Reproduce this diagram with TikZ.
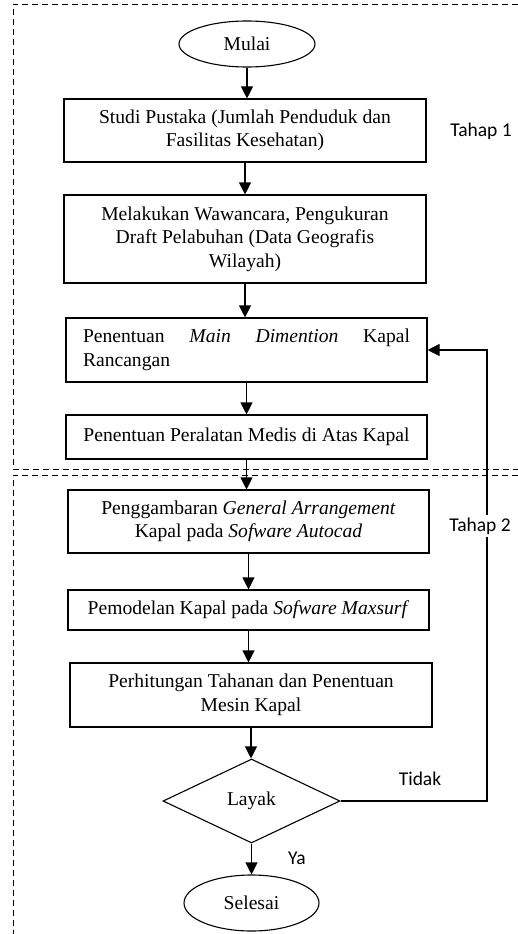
\documentclass[tikz,border=0pt]{standalone}
\usepackage{fontspec}
\setmainfont{Liberation Serif}
\newfontfamily\calfont{Carlito}
\usetikzlibrary{shapes.geometric,arrows.meta}
\newcommand{\boxfont}{\fontsize{19.6}{23.5}\selectfont}
\newcommand{\labfont}{\calfont\fontsize{19.5}{23}\selectfont}
\tikzset{
  proc/.style={draw, line width=1.1pt, align=center, inner sep=0pt, font=\boxfont},
  term/.style={draw, ellipse, line width=1.1pt, inner sep=0pt, font=\boxfont},
  decis/.style={draw, diamond, line width=1.1pt, inner sep=0pt, font=\boxfont},
  arr/.style={line width=1.1pt, -{Triangle[width=12pt,length=12pt]}},
  ln/.style={line width=1.1pt},
  dsh/.style={line width=0.9pt, dash pattern=on 6pt off 4pt},
  lab/.style={font=\labfont, inner sep=1pt}
}
\begin{document}
\begin{tikzpicture}[x=1pt,y=-1pt]
\useasboundingbox (0,0) rectangle (518,934);
% dashed stage frames
\draw[dsh] (518,4) -- (13,4) -- (13,469) -- (518,469);
\draw[dsh] (518,475) -- (13,475) -- (13,934);
% nodes
\node[term, minimum width=136pt, minimum height=46pt] (start) at (247,44) {Mulai};
\node[proc, minimum width=362pt, minimum height=63pt] (b1) at (245,130.5)
  {Studi Pustaka (Jumlah Penduduk dan\\Fasilitas Kesehatan)};
\node[proc, minimum width=362pt, minimum height=88pt] (b2) at (245,239)
  {Melakukan Wawancara, Pengukuran\\Draft Pelabuhan (Data Geografis\\Wilayah)};
\node[proc, minimum width=361pt, minimum height=64pt, text width=327pt, align=left] (b3) at (246.5,350)
  {Penentuan\hfill\textit{Main}\hfill\textit{Dimention}\hfill Kapal\\Rancangan};
\node[proc, minimum width=361pt, minimum height=44pt] (b4) at (246.5,437)
  {Penentuan Peralatan Medis di Atas Kapal};
\node[proc, minimum width=361pt, minimum height=63pt] (b5) at (248.5,521.5)
  {Penggambaran \textit{General Arrangement}\\Kapal pada \textit{Sofware Autocad}};
\node[proc, minimum width=361pt, minimum height=40pt] (b6) at (248.5,610)
  {Pemodelan Kapal pada \textit{Sofware Maxsurf}};
\node[proc, minimum width=362pt, minimum height=64pt] (b7) at (251,695)
  {Perhitungan Tahanan dan Penentuan\\Mesin Kapal};
\node[decis, minimum width=177pt, minimum height=84pt] (dec) at (251.5,801) {Layak};
\node[term, minimum width=135pt, minimum height=56pt] (stop) at (251.5,903) {Selesai};
% labels
\node[lab] (t1) at (481,131) {Tahap 1};
\node[lab] (ti) at (420,779) {Tidak};
\node[lab] (ya) at (297,858) {Ya};
% connectors
\draw[arr] (start.south) -- (start.south |- b1.north);
\draw[arr] (b1.south) -- (b1.south |- b2.north);
\draw[arr] (b2.south) -- (b2.south |- b3.north);
\draw[arr] (b3.south) -- (b3.south |- b4.north);
\draw[arr] (b4.south) -- (b4.south |- b5.north);
\draw[arr] (b5.south) -- (b5.south |- b6.north);
\draw[arr] (b6.south) -- (b6.south |- b7.north);
\draw[arr] (b7.south) -- (b7.south |- dec.north);
\draw[arr] (dec.south) -- (dec.south |- stop.north);
\coordinate (fb) at (487,801);
\draw[arr] (dec.east) -- (fb) |- (b3.east);
\node[lab, fill=white, inner sep=3pt] (t2) at (480,526) {Tahap 2};
\end{tikzpicture}
\end{document}
